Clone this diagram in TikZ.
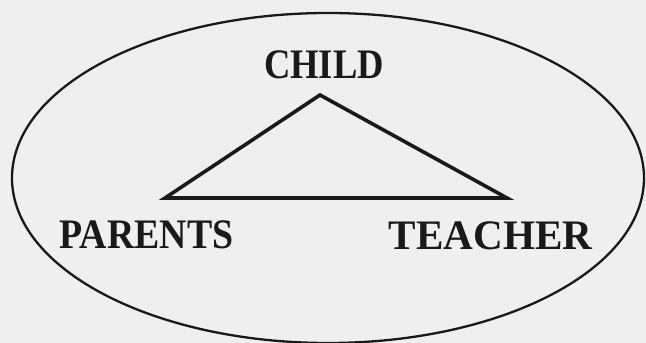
\documentclass[tikz,border=0pt]{standalone}
\usepackage{fontspec}
\setmainfont{Liberation Serif}

\definecolor{paper}{RGB}{239,239,239}
\definecolor{ink}{RGB}{25,25,25}

\tikzset{
  rolelbl/.style={ink, anchor=base, inner sep=0pt, font=\fontsize{42}{42}\selectfont\bfseries}
}

\begin{document}
\begin{tikzpicture}[x=1pt, y=1pt]

  \fill[paper] (0,0) rectangle (646,343);
  \useasboundingbox (0,0) rectangle (646,343);

  % the enclosing circle of care
  \draw[ink, line width=2.3pt] (328,165) ellipse [x radius=316, y radius=165];

  % corners of the triangle
  \coordinate (cTop) at (320,248);
  \coordinate (cLeft) at (165,145);
  \coordinate (cRight) at (507,145);

  \draw[ink, line width=3.6pt, line join=miter] (cTop) -- (cLeft) -- (cRight) -- cycle;

  % labels
  \node[rolelbl, xscale=0.87] (child) at (324,264) {CHILD};
  \node[rolelbl, xscale=0.9] (parents) at (146.5,94) {PARENTS};
  \node[rolelbl, xscale=0.98] (teacher) at (490.5,93) {TEACHER};

\end{tikzpicture}
\end{document}
